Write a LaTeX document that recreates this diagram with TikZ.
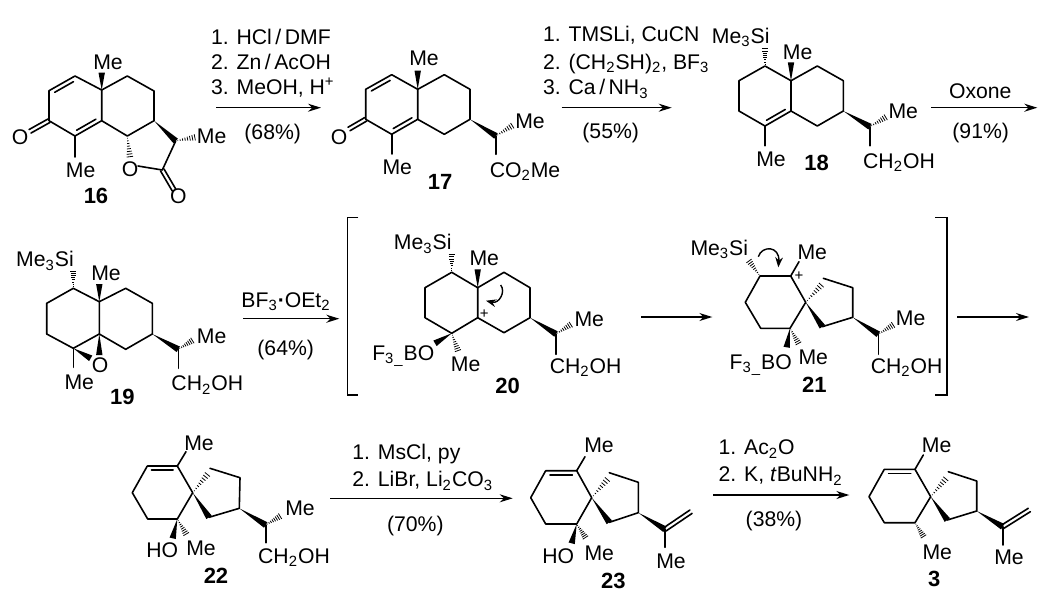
\documentclass[tikz,border=0pt]{standalone}
\usepackage{fontspec}
\setmainfont{Liberation Sans}
\usetikzlibrary{calc,arrows.meta}

\tikzset{
  bond/.style={line width=.8pt,line cap=round,line join=round},
  rxn/.style={line width=.7pt,-{Stealth[length=6.5pt,width=4pt]}},
  curvearr/.style={line width=.7pt,-{Stealth[length=5pt,width=3.8pt]}},
  lab/.style={inner sep=0pt,text height=7.6pt,text depth=0pt,font=\fontsize{10.6}{12}\selectfont},
  reag/.style={lab,anchor=west},
  num/.style={lab,font=\fontsize{11}{13}\selectfont\bfseries},
  chg/.style={inner sep=0pt,font=\fontsize{7.5}{8}\selectfont}
}
\newcommand{\wedgebond}[2]{\fill (#1) -- ($(#2)!1.6pt!90:(#1)$) -- ($(#2)!1.6pt!-90:(#1)$) -- cycle;}
\newcommand{\hashbond}[2]{\foreach \t in {.1,.22,.34,.46,.58,.7,.82,.94}
  \draw[line width=.4pt] ($(#1)!\t!(#2)!\t*1.7pt!90:(#2)$) -- ($(#1)!\t!(#2)!\t*1.7pt!-90:(#2)$);}
\newcommand{\dblin}[2]{\draw[bond] ($(#1)!.14!(#2)!2.1pt!90:(#2)$) -- ($(#2)!.14!(#1)!2.1pt!-90:(#1)$);}
\newcommand{\dblsym}[2]{\draw[bond] ($(#1)!1pt!90:(#2)$) -- ($(#2)!1pt!-90:(#1)$);
  \draw[bond] ($(#1)!1pt!-90:(#2)$) -- ($(#2)!1pt!90:(#1)$);}
\newcommand{\sub}[1]{\textsubscript{#1}}

\begin{document}
\begin{tikzpicture}[x=.5pt,y=-.5pt]
\useasboundingbox (0,0) rectangle (1050,606);

% compound 16
\coordinate (a1) at (101.7,90);
\coordinate (a2) at (75,76);
\coordinate (a3) at (49,90.7);
\coordinate (a4) at (49,120.7);
\coordinate (a5) at (75,136);
\coordinate (a6) at (101.7,120.7);
\coordinate (a7) at (127.3,76);
\coordinate (a8) at (154,91);
\coordinate (a9) at (154,120.7);
\coordinate (a10) at (127.3,136);
\coordinate (a11) at (175.7,141);
\coordinate (a12) at (162.3,170);
\coordinate (aTop) at (101.7,72.7);
\coordinate (aCO) at (30,131.3);
\coordinate (aMe) at (75,157);
\coordinate (aHa) at (130,158);
\coordinate (aHb) at (196,137);
\coordinate (aO) at (138,166);
\coordinate (aCOb) at (174,190);
\draw[bond] (a2)--(a3)--(a4)--(a5)--(a6)--(a1)--(a2);
\draw[bond] (a1)--(a7)--(a8)--(a9)--(a10)--(a6);
\draw[bond] (a11)--(a12)--(aO);
\draw[bond] (a5)--(aMe);
\dblin{a2}{a3}
\dblin{a5}{a6}
\dblsym{a4}{aCO}
\dblsym{a12}{aCOb}
\wedgebond{a1}{aTop}
\wedgebond{a9}{a11}
\hashbond{a10}{aHa}
\hashbond{a11}{aHb}
\node[lab] (me16a) at (108,62) {Me};
\node[lab] (me16b) at (80.7,170) {Me};
\node[lab] (me16c) at (211.7,135.7) {Me};
\node[lab] (o16a) at (20,137) {O};
\node[lab] (o16b) at (130,169.3) {O};
\node[lab] (o16c) at (178.3,196) {O};
\node[num] (n16) at (96,195.7) {16};

% step 16 to 17
\coordinate (s1a) at (216,107.7);
\coordinate (s1b) at (321,107.7);
\draw[rxn] (s1a)--(s1b);
\node[reag] (r1a) at (210.7,37) {1. HCl\,/\,DMF};
\node[reag] (r1b) at (210.7,61.7) {2. Zn\,/\,AcOH};
\node[reag] (r1c) at (210.7,87) {3. MeOH, H\textsuperscript{+}};
\node[lab] (y1) at (272.7,131.7) {(68\%)};

% compound 17
\coordinate (b1) at (417.7,89.3);
\coordinate (b2) at (391.7,74.7);
\coordinate (b3) at (365.7,89.3);
\coordinate (b4) at (365.7,119.3);
\coordinate (b5) at (391.7,134.3);
\coordinate (b6) at (417.7,119.3);
\coordinate (b7) at (444.3,74.7);
\coordinate (b8) at (470,89.3);
\coordinate (b9) at (470,119.3);
\coordinate (b10) at (444.3,134.3);
\coordinate (b11) at (496,136);
\coordinate (bTop) at (417.7,70.7);
\coordinate (bCO) at (349,129);
\coordinate (bMe) at (391.7,154);
\coordinate (bHa) at (513.3,125);
\coordinate (bEnd) at (496,154.3);
\draw[bond] (b2)--(b3)--(b4)--(b5)--(b6)--(b1)--(b2);
\draw[bond] (b1)--(b7)--(b8)--(b9)--(b10)--(b6);
\draw[bond] (b5)--(bMe);
\draw[bond] (b11)--(bEnd);
\dblin{b2}{b3}
\dblin{b5}{b6}
\dblsym{b4}{bCO}
\wedgebond{b1}{bTop}
\wedgebond{b9}{b11}
\hashbond{b11}{bHa}
\node[lab] (me17a) at (424,58.3) {Me};
\node[lab] (me17b) at (397.3,167.3) {Me};
\node[lab] (me17c) at (530,120.7) {Me};
\node[lab] (o17) at (339,137) {O};
\node[lab] (ester17) at (525,170) {CO\sub{2}Me};
\node[num] (n17) at (440,182.3) {17};

% step 17 to 18
\coordinate (s2a) at (561.7,107.7);
\coordinate (s2b) at (671.7,107.7);
\draw[rxn] (s2a)--(s2b);
\node[reag] (r2a) at (542.7,34.3) {1. TMSLi, CuCN};
\node[reag] (r2b) at (542.7,61.7) {2. (CH\sub{2}SH)\sub{2}, BF\sub{3}};
\node[reag] (r2c) at (542.7,87.3) {3. Ca\,/\,NH\sub{3}};
\node[lab] (y2) at (610.7,130.7) {(55\%)};

% compound 18
\coordinate (c1) at (791,80.7);
\coordinate (c2) at (765,66);
\coordinate (c3) at (739,80.7);
\coordinate (c4) at (739,111);
\coordinate (c5) at (765,126);
\coordinate (c6) at (791,111);
\coordinate (c7) at (817.3,66);
\coordinate (c8) at (843.3,80.7);
\coordinate (c9) at (843.3,111);
\coordinate (c10) at (817.3,126);
\coordinate (c11) at (870,126.7);
\coordinate (cTop) at (791,62.3);
\coordinate (cSi) at (765,47.7);
\coordinate (cMe) at (765,145.7);
\coordinate (cHa) at (886.7,116.7);
\coordinate (cEnd) at (870,145.7);
\draw[bond] (c2)--(c3)--(c4)--(c5)--(c6)--(c1)--(c2);
\draw[bond] (c1)--(c7)--(c8)--(c9)--(c10)--(c6);
\draw[bond] (c5)--(cMe);
\draw[bond] (c11)--(cEnd);
\dblin{c5}{c6}
\wedgebond{c1}{cTop}
\wedgebond{c9}{c11}
\hashbond{c2}{cSi}
\hashbond{c11}{cHa}
\node[lab] (si18) at (740.7,36) {Me\sub{3}Si};
\node[lab] (me18a) at (797.7,51.7) {Me};
\node[lab] (me18b) at (771,159.3) {Me};
\node[lab] (me18c) at (903.3,111) {Me};
\node[lab] (oh18) at (899,160.7) {CH\sub{2}OH};
\node[num] (n18) at (816.7,163.3) {18};

% step 18 to 19
\coordinate (s3a) at (931,107.7);
\coordinate (s3b) at (1037.3,107.7);
\draw[rxn] (s3a)--(s3b);
\node[lab] (r3) at (980.3,90.7) {Oxone};
\node[lab] (y3) at (980.7,130.7) {(91\%)};

% compound 19
\coordinate (d1) at (99.3,301.7);
\coordinate (d2) at (73.3,288.3);
\coordinate (d3) at (46.7,303.3);
\coordinate (d4) at (46.7,334);
\coordinate (d5) at (73.3,348.3);
\coordinate (d6) at (99.3,334);
\coordinate (d7) at (125.7,288.3);
\coordinate (d8) at (152.3,303.3);
\coordinate (d9) at (152.3,334);
\coordinate (d10) at (125.7,349.3);
\coordinate (d11) at (178.3,349.3);
\coordinate (dTop) at (99.3,284);
\coordinate (dSi) at (73.3,270);
\coordinate (dMe) at (73.3,367.3);
\coordinate (dEa) at (99.3,355);
\coordinate (dEb) at (90.7,358.3);
\coordinate (dHa) at (193.3,340);
\coordinate (dEnd) at (178.3,368.3);
\draw[bond] (d2)--(d3)--(d4)--(d5)--(d6)--(d1)--(d2);
\draw[bond] (d1)--(d7)--(d8)--(d9)--(d10)--(d6);
\draw[bond] (d5)--(dMe);
\draw[bond] (d11)--(dEnd);
\wedgebond{d1}{dTop}
\wedgebond{d6}{dEa}
\wedgebond{d5}{dEb}
\wedgebond{d9}{d11}
\hashbond{d2}{dSi}
\hashbond{d11}{dHa}
\node[lab] (si19) at (45,259.3) {Me\sub{3}Si};
\node[lab] (me19a) at (106,272.7) {Me};
\node[lab] (me19b) at (79.3,382.3) {Me};
\node[lab] (me19c) at (211.7,335.7) {Me};
\node[lab] (o19) at (100,365) {O};
\node[lab] (oh19) at (207.3,383.3) {CH\sub{2}OH};
\node[num] (n19) at (122.3,397.3) {19};

% step 19 to 20
\coordinate (s4a) at (243.3,318.7);
\coordinate (s4b) at (339.3,318.7);
\draw[rxn] (s4a)--(s4b);
\node[lab] (r4) at (286,300) {BF\sub{3}\textbf{·}OEt\sub{2}};
\node[lab] (y4) at (285.7,348.3) {(64\%)};

% brackets
\coordinate (kLa) at (358.3,217.3);
\coordinate (kLb) at (347.3,217.3);
\coordinate (kLc) at (347.3,395);
\coordinate (kLd) at (358.3,395);
\coordinate (kRa) at (935,217.3);
\coordinate (kRb) at (946.7,217.3);
\coordinate (kRc) at (946.7,395);
\coordinate (kRd) at (935,395);
\draw[bond,line cap=butt,line join=miter] (kLa)--(kLb)--(kLc)--(kLd);
\draw[bond,line cap=butt,line join=miter] (kRa)--(kRb)--(kRc)--(kRd);

% compound 20
\coordinate (e1) at (477.7,287.7);
\coordinate (e2) at (451.7,272.3);
\coordinate (e3) at (425,287.7);
\coordinate (e4) at (425,317.7);
\coordinate (e5) at (451.7,333.3);
\coordinate (e6) at (477.7,317.7);
\coordinate (e7) at (504,272.3);
\coordinate (e8) at (530,287.7);
\coordinate (e9) at (530,317.7);
\coordinate (e10) at (504,332.7);
\coordinate (e11) at (556,334);
\coordinate (eTop) at (477.7,269.3);
\coordinate (eSi) at (451.7,253.3);
\coordinate (eB) at (435,343.3);
\coordinate (eMe) at (458.3,351.7);
\coordinate (eHa) at (571.7,324);
\coordinate (eEnd) at (556,354.3);
\coordinate (eCa) at (500.7,285);
\coordinate (eCb) at (486,300.7);
\coordinate (eCc) at (506,292);
\coordinate (eCd) at (499,304);
\draw[bond] (e2)--(e3)--(e4)--(e5)--(e6)--(e1)--(e2);
\draw[bond] (e1)--(e7)--(e8)--(e9)--(e10)--(e6);
\draw[bond] (e11)--(eEnd);
\wedgebond{e1}{eTop}
\wedgebond{e5}{eB}
\wedgebond{e9}{e11}
\hashbond{e2}{eSi}
\hashbond{e5}{eMe}
\hashbond{e11}{eHa}
\draw[curvearr] (eCa) .. controls (eCc) and (eCd) .. (eCb);
\node[chg] (p20) at (484.3,314) {+};
\node[lab] (si20) at (422.7,242.3) {Me\sub{3}Si};
\node[lab] (me20a) at (484.3,258.3) {Me};
\node[lab] (me20b) at (465.7,364) {Me};
\node[lab] (me20c) at (589.3,319.3) {Me};
\node[lab] (bf20) at (403.3,352.7) {F\sub{3}\sub{\_}BO};
\node[lab] (oh20) at (585.7,365.7) {CH\sub{2}OH};
\node[num] (n20) at (507.7,385.7) {20};

% step 20 to 21
\coordinate (s5a) at (641,317);
\coordinate (s5b) at (712.3,317);
\draw[rxn] (s5a)--(s5b);

% compound 21
\coordinate (f1) at (760,276);
\coordinate (f2) at (790.7,276);
\coordinate (f3) at (805.7,302.3);
\coordinate (f4) at (790,328.3);
\coordinate (f5) at (760.7,328.3);
\coordinate (f6) at (745.3,302.3);
\coordinate (f7) at (823.3,278.3);
\coordinate (f8) at (852.7,287.7);
\coordinate (f9) at (852.7,317.3);
\coordinate (f10) at (822.3,326.7);
\coordinate (f11) at (878.3,334.3);
\coordinate (fSi) at (748.3,260);
\coordinate (fMe) at (799,261.7);
\coordinate (fHs) at (822.3,284);
\coordinate (fB) at (786.7,347.3);
\coordinate (fHm) at (799,344.3);
\coordinate (fHa) at (894,324.3);
\coordinate (fEnd) at (878.3,354.3);
\coordinate (fCa) at (758.3,256.7);
\coordinate (fCb) at (778.3,267.3);
\coordinate (fCc) at (762,245);
\coordinate (fCd) at (780,246);
\draw[bond] (f1)--(f2)--(f3)--(f4)--(f5)--(f6)--(f1);
\draw[bond] (f7)--(f8)--(f9)--(f10);
\draw[bond] (f2)--(fMe);
\draw[bond] (f11)--(fEnd);
\wedgebond{f3}{f10}
\wedgebond{f4}{fB}
\wedgebond{f9}{f11}
\hashbond{f1}{fSi}
\hashbond{f3}{fHs}
\hashbond{f4}{fHm}
\hashbond{f11}{fHa}
\draw[curvearr] (fCa) .. controls (fCc) and (fCd) .. (fCb);
\node[chg] (p21) at (799,276) {+};
\node[lab] (si21) at (719.3,247.7) {Me\sub{3}Si};
\node[lab] (me21a) at (812.3,251.7) {Me};
\node[lab] (me21b) at (813.3,356.7) {Me};
\node[lab] (me21c) at (910.7,317.7) {Me};
\node[lab] (bf21) at (760.7,361.7) {F\sub{3}\sub{\_}BO};
\node[lab] (oh21) at (906.7,365.7) {CH\sub{2}OH};
\node[num] (n21) at (814.3,385) {21};

% step 21 to 22
\coordinate (s6a) at (957.3,317);
\coordinate (s6b) at (1029,317);
\draw[rxn] (s6a)--(s6b);

% compound 22
\coordinate (g1) at (147.3,466);
\coordinate (g2) at (177.3,466);
\coordinate (g3) at (192.7,492.7);
\coordinate (g4) at (177.3,519);
\coordinate (g5) at (147.7,519);
\coordinate (g6) at (132.3,492.7);
\coordinate (g7) at (210,468.3);
\coordinate (g8) at (240,477.7);
\coordinate (g9) at (239.3,508.3);
\coordinate (g10) at (209,517.3);
\coordinate (g11) at (265.7,525);
\coordinate (gMe) at (186,451.7);
\coordinate (gHs) at (208.3,473.3);
\coordinate (gB) at (172.7,538.3);
\coordinate (gHm) at (186.7,535);
\coordinate (gHa) at (281,515.7);
\coordinate (gEnd) at (265.7,542.7);
\draw[bond] (g1)--(g2)--(g3)--(g4)--(g5)--(g6)--(g1);
\draw[bond] (g7)--(g8)--(g9)--(g10);
\draw[bond] (g2)--(gMe);
\draw[bond] (g11)--(gEnd);
\dblin{g2}{g1}
\wedgebond{g3}{g10}
\wedgebond{g4}{gB}
\wedgebond{g9}{g11}
\hashbond{g3}{gHs}
\hashbond{g4}{gHm}
\hashbond{g11}{gHa}
\node[lab] (me22a) at (199,442.7) {Me};
\node[lab] (me22b) at (201,548.3) {Me};
\node[lab] (me22c) at (300,508.3) {Me};
\node[lab] (ho22) at (162.3,550) {HO};
\node[lab] (oh22) at (294,556) {CH\sub{2}OH};
\node[num] (n22) at (216,575.7) {22};

% step 22 to 23
\coordinate (s7a) at (330,498.3);
\coordinate (s7b) at (512.7,498.3);
\draw[rxn] (s7a)--(s7b);
\node[reag] (r7a) at (352,451.7) {1. MsCl, py};
\node[reag] (r7b) at (352,479.3) {2. LiBr, Li\sub{2}CO\sub{3}};
\node[lab] (y7) at (415.3,524.3) {(70\%)};

% compound 23
\coordinate (h1) at (545.7,470.7);
\coordinate (h2) at (576.7,470.7);
\coordinate (h3) at (591.7,497.7);
\coordinate (h4) at (576.7,524);
\coordinate (h5) at (545.7,524);
\coordinate (h6) at (530.7,497.7);
\coordinate (h7) at (609.3,472.7);
\coordinate (h8) at (638.3,482.3);
\coordinate (h9) at (638.3,512.7);
\coordinate (h10) at (609.3,522.3);
\coordinate (h11) at (665,529.3);
\coordinate (hMe) at (585,456.7);
\coordinate (hHs) at (608.3,478.3);
\coordinate (hB) at (571.7,543.3);
\coordinate (hHm) at (586,538.3);
\coordinate (hEnd) at (665,547.3);
\coordinate (hCH) at (691,511.7);
\draw[bond] (h1)--(h2)--(h3)--(h4)--(h5)--(h6)--(h1);
\draw[bond] (h7)--(h8)--(h9)--(h10);
\draw[bond] (h2)--(hMe);
\draw[bond] (h11)--(hEnd);
\dblin{h2}{h1}
\dblsym{h11}{hCH}
\wedgebond{h3}{h10}
\wedgebond{h4}{hB}
\wedgebond{h9}{h11}
\hashbond{h3}{hHs}
\hashbond{h4}{hHm}
\node[lab] (me23a) at (599,445) {Me};
\node[lab] (me23b) at (599.3,552.7) {Me};
\node[lab] (me23c) at (671,561) {Me};
\node[lab] (ho23) at (558.3,556) {HO};
\node[num] (n23) at (613.3,580.7) {23};

% step 23 to 3
\coordinate (s8a) at (713.3,495);
\coordinate (s8b) at (849.3,495);
\draw[rxn] (s8a)--(s8b);
\node[reag] (r8a) at (718.3,447.3) {1. Ac\sub{2}O};
\node[reag] (r8b) at (718.3,474.3) {2. K, \textit{t}BuNH\sub{2}};
\node[lab] (y8) at (774,519) {(38\%)};

% compound 3
\coordinate (m1) at (884.3,469.3);
\coordinate (m2) at (915,469.3);
\coordinate (m3) at (930.7,496.7);
\coordinate (m4) at (915,522.7);
\coordinate (m5) at (884.3,522.7);
\coordinate (m6) at (869,496.7);
\coordinate (m7) at (948.3,471.7);
\coordinate (m8) at (976.7,481);
\coordinate (m9) at (976.7,511);
\coordinate (m10) at (947.3,520);
\coordinate (m11) at (1002.7,526.7);
\coordinate (mMe) at (923.3,455);
\coordinate (mHs) at (946.7,477.7);
\coordinate (mHm) at (924,537.3);
\coordinate (mEnd) at (1002.7,545);
\coordinate (mCH) at (1029.3,510);
\draw[bond] (m1)--(m2)--(m3)--(m4)--(m5)--(m6)--(m1);
\draw[bond] (m7)--(m8)--(m9)--(m10);
\draw[bond] (m2)--(mMe);
\draw[bond] (m11)--(mEnd);
\dblin{m2}{m1}
\dblsym{m11}{mCH}
\wedgebond{m3}{m10}
\wedgebond{m9}{m11}
\hashbond{m3}{mHs}
\hashbond{m4}{mHm}
\node[lab] (me3a) at (936.7,445) {Me};
\node[lab] (me3b) at (937.3,552.3) {Me};
\node[lab] (me3c) at (1009,557.3) {Me};
\node[num] (n3) at (934.3,579) {3};

\end{tikzpicture}
\end{document}
